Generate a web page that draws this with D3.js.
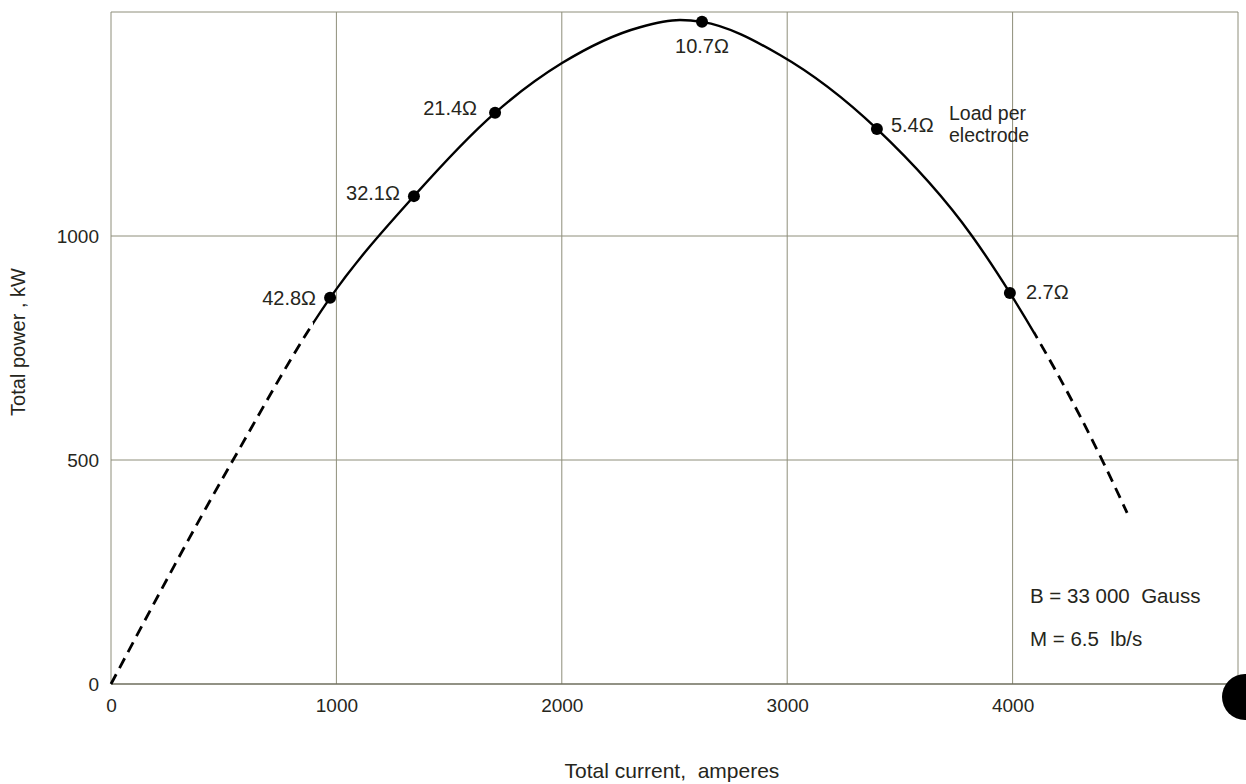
<!DOCTYPE html>
<html>
<head>
<meta charset="utf-8">
<script src="https://cdn.jsdelivr.net/npm/d3@7/dist/d3.min.js"></script>
<style>
  html, body { margin: 0; padding: 0; background: #fff; }
  svg { display: block; }
  text { font-family: "Liberation Sans", Arial, sans-serif; fill: #26261c; }
</style>
</head>
<body>
<svg id="chart" width="1246" height="784"></svg>
<script>
// ---- Data ----
const xTicks = [0, 1000, 2000, 3000, 4000];
const yTicks = [0, 500, 1000];
const xGrid = [1000, 2000, 3000, 4000, 5000];
const yGrid = [500, 1000, 1500];

// power vs current curve
const curveCurrent = [0, 537, 972, 1344, 1704, 2001, 2347, 2524, 2622, 2968, 3398, 3820, 3988, 4401, 4508];
const curvePower   = [0, 496, 862, 1089, 1275, 1386, 1466, 1482, 1478, 1404, 1239, 1000, 873, 496, 382];
// measured (solid) part of the curve; outside it is dashed extrapolation
const solidRange = [896, 4099];

// load points
const loadLabels  = ["42.8Ω", "32.1Ω", "21.4Ω", "10.7Ω", "5.4Ω", "2.7Ω"];
const loadCurrent = [972, 1344, 1704, 2622, 3398, 3988];
const loadPower   = [862, 1089, 1275, 1478, 1239, 873];

// ---- Layout ----
const svg = d3.select("#chart");
const x = d3.scaleLinear().domain([0, 5000]).range([111, 1238]);
const y = d3.scaleLinear().domain([0, 1500]).range([684, 12]);

const gridColor = "#8e8e7a";

// grid lines
const g = svg.append("g");
g.selectAll("line.vx").data(xGrid).enter().append("line")
  .attr("x1", d => x(d)).attr("x2", d => x(d))
  .attr("y1", y(0)).attr("y2", y(1500))
  .attr("stroke", gridColor).attr("stroke-width", 1);
g.selectAll("line.hy").data(yGrid).enter().append("line")
  .attr("x1", x(0)).attr("x2", x(5000))
  .attr("y1", d => y(d)).attr("y2", d => y(d))
  .attr("stroke", gridColor).attr("stroke-width", 1);

// axes lines
svg.append("line").attr("x1", x(0)).attr("x2", x(5000)).attr("y1", y(0)).attr("y2", y(0))
  .attr("stroke", "#6e6e5c").attr("stroke-width", 1.3);
svg.append("line").attr("x1", x(0)).attr("x2", x(0)).attr("y1", y(0)).attr("y2", y(1500))
  .attr("stroke", gridColor).attr("stroke-width", 1);

// axis tick labels via d3 axes (no domain / tick lines)
const xAxis = d3.axisBottom(x).tickValues(xTicks).tickSize(0).tickPadding(0).tickFormat(d3.format("d"));
const xa = svg.append("g").attr("transform", `translate(0,${y(0) + 14})`).call(xAxis);
xa.select(".domain").remove();
xa.selectAll("text").attr("font-size", 19).attr("font-family", "Liberation Sans, Arial, sans-serif")
  .attr("fill", "#26261c").attr("dy", "0.71em");

const yAxis = d3.axisLeft(y).tickValues(yTicks).tickSize(0).tickPadding(0).tickFormat(d3.format("d"));
const ya = svg.append("g").attr("transform", `translate(99,0)`).call(yAxis);
ya.select(".domain").remove();
ya.selectAll("text").attr("font-size", 19).attr("font-family", "Liberation Sans, Arial, sans-serif")
  .attr("fill", "#26261c");

// clip paths for solid / dashed parts
const defs = svg.append("defs");
defs.append("clipPath").attr("id", "clipSolid").append("rect")
  .attr("x", x(solidRange[0])).attr("y", 0)
  .attr("width", x(solidRange[1]) - x(solidRange[0])).attr("height", 784);
const cd = defs.append("clipPath").attr("id", "clipDashed");
cd.append("rect").attr("x", 0).attr("y", 0).attr("width", x(solidRange[0])).attr("height", 784);
cd.append("rect").attr("x", x(solidRange[1])).attr("y", 0).attr("width", 1246 - x(solidRange[1])).attr("height", 784);

// curve
const curveData = curveCurrent.map((c, i) => [c, curvePower[i]]);
const line = d3.line().x(d => x(d[0])).y(d => y(d[1])).curve(d3.curveMonotoneX);
svg.append("path").datum(curveData).attr("d", line)
  .attr("clip-path", "url(#clipDashed)")
  .attr("fill", "none").attr("stroke", "#000").attr("stroke-width", 2.8)
  .attr("stroke-dasharray", "11,7");
svg.append("path").datum(curveData).attr("d", line)
  .attr("clip-path", "url(#clipSolid)")
  .attr("fill", "none").attr("stroke", "#000").attr("stroke-width", 2.4);

// points
const pts = loadLabels.map((l, i) => ({ label: l, c: loadCurrent[i], p: loadPower[i] }));
svg.selectAll("circle.pt").data(pts).enter().append("circle")
  .attr("cx", d => x(d.c)).attr("cy", d => y(d.p)).attr("r", 6).attr("fill", "#000");

// point labels: offsets per label (dx, dy, anchor)
const labelPos = [[-14, 7, "end"], [-14, 4, "end"], [-18, 2, "end"], [0, 31, "middle"], [14, 3, "start"], [16, 6, "start"]];
svg.selectAll("text.lbl").data(pts).enter().append("text")
  .attr("x", (d, i) => x(d.c) + labelPos[i][0])
  .attr("y", (d, i) => y(d.p) + labelPos[i][1])
  .attr("text-anchor", (d, i) => labelPos[i][2])
  .attr("font-size", 20)
  .text(d => d.label);

// annotations
svg.append("text").attr("x", 949).attr("y", 120).attr("font-size", 19.5).text("Load per");
svg.append("text").attr("x", 949).attr("y", 142).attr("font-size", 19.5).text("electrode");
svg.append("text").attr("x", 1030).attr("y", 603).attr("font-size", 20.5).attr("xml:space", "preserve").text("B = 33 000  Gauss");
svg.append("text").attr("x", 1030).attr("y", 646).attr("font-size", 20.5).attr("xml:space", "preserve").text("M = 6.5  lb/s");

// axis titles
svg.append("text").attr("transform", "translate(25,342) rotate(-90)")
  .attr("text-anchor", "middle").attr("font-size", 20).text("Total power , kW");
svg.append("text").attr("x", 672).attr("y", 778).attr("text-anchor", "middle")
  .attr("font-size", 21).attr("xml:space", "preserve").text("Total current,  amperes");

// scan artifact (black blot at bottom-right corner)
svg.append("circle").attr("cx", 1245).attr("cy", 697).attr("r", 23).attr("fill", "#000");
</script>
</body>
</html>
